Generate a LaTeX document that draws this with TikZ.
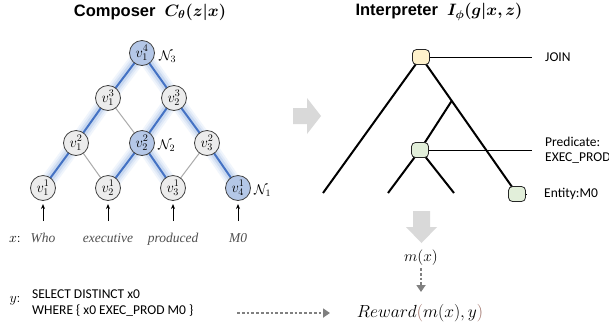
\RequirePackage{fix-cm}
\documentclass[tikz,border=0pt]{standalone}
\usepackage{amsmath,bm}
\usepackage{fontspec}
\newfontfamily\arialfont{Liberation Sans}
\newfontfamily\calfont{Carlito}
\newfontfamily\timesfont{Liberation Serif}
\usetikzlibrary{arrows.meta,calc}
\pgfdeclarelayer{bg}
\pgfdeclarelayer{paper}
\pgfsetlayers{paper,bg,main}
\definecolor{nodeblue}{RGB}{180,199,231}
\definecolor{nodegray}{RGB}{236,236,236}
\definecolor{edgeblue}{RGB}{68,114,196}
\definecolor{glowO}{RGB}{240,245,252}
\definecolor{glowA}{RGB}{224,233,247}
\definecolor{glowB}{RGB}{200,216,240}
\definecolor{edgegray}{RGB}{170,170,170}
\definecolor{yfill}{RGB}{255,242,204}
\definecolor{gfill}{RGB}{226,239,218}
\definecolor{bigarrow}{RGB}{217,217,217}
\definecolor{dotgray}{RGB}{128,128,128}
\definecolor{wordgray}{RGB}{80,80,80}
\definecolor{paren}{RGB}{150,100,90}
\tikzset{
  cnode/.style={circle, draw=black!75, line width=0.8pt, fill=nodegray, minimum size=25pt, inner sep=0pt, font=\fontsize{14.5}{14.5}\selectfont},
  bnode/.style={cnode, fill=nodeblue},
  rnode/.style={rectangle, rounded corners=4pt, draw=black!85, line width=0.8pt, minimum width=17pt, minimum height=15pt, inner sep=0pt},
  glowo/.style={line width=15pt, glowO},
  glowa/.style={line width=11pt, glowA},
  glowb/.style={line width=7pt, glowB},
  blueline/.style={line width=2pt, edgeblue},
  grayline/.style={line width=1pt, edgegray},
  tline/.style={line width=2pt, black},
  hline/.style={line width=0.8pt, black},
  word/.style={font=\timesfont\itshape\fontsize{13.5}{13.5}\selectfont, text=wordgray, anchor=base},
  lbl/.style={font=\calfont\fontsize{13.5}{15.5}\selectfont, anchor=west, align=left, inner sep=0pt},
  nlbl/.style={font=\fontsize{14}{14}\selectfont, inner sep=0pt},
  uparr/.style={-{Stealth[length=5pt,width=4pt]}, line width=0.9pt, black},
  dotarr/.style={dotgray, line width=2.6pt, dash pattern=on 2.8pt off 2pt, -{Triangle[length=7pt,width=9pt]}},
}
\begin{document}
\begin{tikzpicture}[x=1pt,y=-1pt]
\useasboundingbox (0,0) rectangle (609,333);
\begin{pgfonlayer}{paper}
\fill[white] (0,0) rectangle (609,333);
\end{pgfonlayer}
% titles
\node[font=\arialfont\bfseries\fontsize{16.5}{16.5}\selectfont, inner sep=0pt] (t1) at (150,12) {Composer\ \ $\bm{C_\theta(z|x)}$};
\node[font=\arialfont\bfseries\fontsize{16.5}{16.5}\selectfont, inner sep=0pt] (t2) at (439,12) {Interpreter\ \ $\bm{I_\phi(g|x,z)}$};
% composer nodes
\node[bnode] (v14) at (142,53) {$v_1^4$};
\node[cnode] (v13) at (108,98) {$v_1^3$};
\node[cnode] (v23) at (174,98) {$v_2^3$};
\node[cnode] (v12) at (76,143) {$v_1^2$};
\node[bnode] (v22) at (142,143) {$v_2^2$};
\node[cnode] (v32) at (207,143) {$v_3^2$};
\node[cnode] (v11) at (43,188) {$v_1^1$};
\node[cnode] (v21) at (108,188) {$v_2^1$};
\node[cnode] (v31) at (173,188) {$v_3^1$};
\node[bnode] (v41) at (238,188) {$v_4^1$};
\node[nlbl, anchor=west] (n3) at (159,57) {$\mathcal{N}_3$};
\node[nlbl, anchor=west] (n2) at (158,146) {$\mathcal{N}_2$};
\node[nlbl, anchor=west] (n1) at (254,191) {$\mathcal{N}_1$};
\begin{pgfonlayer}{bg}
\foreach \a/\b in {v11/v12,v12/v13,v13/v14,v14/v23,v23/v32,v32/v41,v21/v22,v22/v23,v22/v31}
  \draw[glowo] (\a.center) -- (\b.center);
\foreach \a/\b in {v11/v12,v12/v13,v13/v14,v14/v23,v23/v32,v32/v41,v21/v22,v22/v23,v22/v31}
  \draw[glowa] (\a.center) -- (\b.center);
\foreach \a/\b in {v11/v12,v12/v13,v13/v14,v14/v23,v23/v32,v32/v41,v21/v22,v22/v23,v22/v31}
  \draw[glowb] (\a.center) -- (\b.center);
\foreach \a/\b in {v12/v21,v13/v22,v32/v31}
  \draw[grayline] (\a.center) -- (\b.center);
\foreach \a/\b in {v11/v12,v12/v13,v13/v14,v14/v23,v23/v32,v32/v41,v21/v22,v22/v23,v22/v31}
  \draw[blueline] (\a.center) -- (\b.center);
\end{pgfonlayer}
% words
\node[anchor=base, font=\fontsize{14}{14}\selectfont] (xl) at (15,242) {$x$:};
\node[word] (w1) at (43,242) {Who};
\node[word] (w2) at (108,242) {executive};
\node[word] (w3) at (173,242) {produced};
\node[word] (w4) at (238,242) {M0};
\foreach \w/\v in {w1/v11,w2/v21,w3/v31,w4/v41}
  \draw[uparr] (\w.north |- 0,221) -- (\v.south |- 0,204);
% big right arrow
\fill[bigarrow] (293,108) -- (307,108) -- (307,98) -- (321,116) -- (307,134) -- (307,124) -- (293,124) -- cycle;
% interpreter
\node[rnode, fill=yfill] (join) at (421,57) {};
\node[rnode, fill=gfill] (pred) at (420,150) {};
\node[rnode, fill=gfill] (ent) at (517,194) {};
\coordinate (L) at (323,193);
\coordinate (B) at ($(join)!0.32!(ent)$);
\coordinate (P1) at (388,193);
\coordinate (P2) at (454,193);
\begin{pgfonlayer}{bg}
\draw[tline] (join.center) -- (L);
\draw[tline] (join.center) -- (ent.center);
\draw[tline] (B) -- (pred.center) -- (P1);
\draw[tline] (pred.center) -- (P2);
\end{pgfonlayer}
\node[lbl] (jl) at (545,57) {JOIN};
\node[lbl] (pl) at (545,150) {Predicate:\\EXEC\_PROD};
\node[lbl] (el) at (544,194) {Entity:M0};
\draw[hline] (join.east) -- (jl.west -| 532,0);
\draw[hline] (pred.east) -- (pl.west -| 532,0);
\draw[hline] (ent.east) -- (el.west -| 527,0);
% down arrow
\fill[bigarrow] (413,211) -- (430,211) -- (430,227) -- (437,227) -- (421.5,243) -- (406,227) -- (413,227) -- cycle;
\node[font=\fontsize{15.5}{15.5}\selectfont] (mx) at (421,258) {$m(x)$};
\node[font=\fontsize{17.5}{17.5}\selectfont] (rw) at (420,313) {$Reward\textcolor{paren}{(}m(x),y\textcolor{paren}{)}$};
\draw[dotarr] (mx.south |- 0,268) -- (mx.south |- 0,292);
% y
\node[anchor=base, font=\fontsize{14}{14}\selectfont] (yl) at (15,302) {$y$:};
\node[lbl, anchor=north west] (sq) at (32,290) {SELECT DISTINCT x0\\WHERE \{ x0 EXEC\_PROD M0 \}};
\coordinate (ds) at (237,313);
\draw[dotarr] (ds) -- (ds -| 330,0);
\end{tikzpicture}
\end{document}
